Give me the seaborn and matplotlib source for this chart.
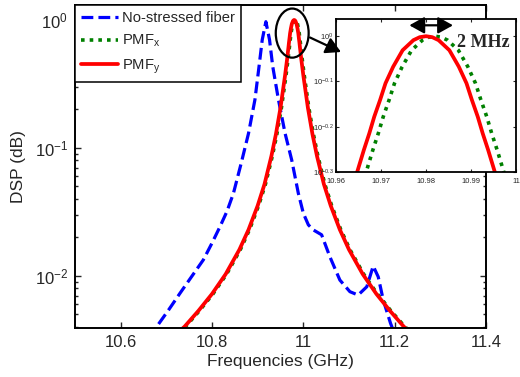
import matplotlib
matplotlib.use("Agg")
import matplotlib.pyplot as plt
import seaborn as sns
import pandas as pd
from matplotlib.patches import Ellipse
from matplotlib.ticker import FixedLocator, FixedFormatter, NullLocator, LogLocator

# ---- spectra (GHz, linear power) ----
freq_nostress = [10.660, 10.679, 10.705, 10.730, 10.755, 10.781, 10.800, 10.8175, 10.833, 10.847,
                 10.864, 10.880, 10.894, 10.903, 10.910, 10.918, 10.926, 10.933, 10.9455, 10.960,
                 10.9745, 10.989, 11.000, 11.011, 11.022, 11.040, 11.058, 11.080, 11.102, 11.120,
                 11.139, 11.153, 11.164, 11.175, 11.191, 11.200]
dsp_nostress = [0.0033, 0.0040, 0.0054, 0.0073, 0.0098, 0.0133, 0.018, 0.0242, 0.032, 0.0442,
                0.076, 0.130, 0.238, 0.433, 0.70, 0.97, 0.70, 0.433, 0.238, 0.130,
                0.0805, 0.0442, 0.0308, 0.025, 0.0228, 0.0209, 0.0141, 0.00925, 0.0075, 0.00706,
                0.0082, 0.0119, 0.0098, 0.00645, 0.00424, 0.0035]

freq_pmf_x = [10.712, 10.742, 10.772, 10.802, 10.832, 10.862, 10.882, 10.902, 10.917, 10.932,
              10.942, 10.952, 10.962, 10.9667, 10.9682, 10.9694, 10.9705, 10.9718, 10.9730, 10.9747,
              10.9768, 10.9792, 10.9806, 10.9820, 10.9834, 10.9848, 10.9872, 10.9893, 10.9910, 10.9922,
              10.9935, 10.9946, 10.9958, 10.9973, 11.002, 11.012, 11.022, 11.032, 11.047, 11.062,
              11.082, 11.102, 11.132, 11.162, 11.192, 11.222, 11.252]
dsp_pmf_x = [0.0032, 0.0040, 0.0053, 0.0072, 0.0103, 0.0160, 0.0229, 0.0353, 0.052, 0.086,
             0.128, 0.206, 0.369, 0.501, 0.561, 0.610, 0.664, 0.723, 0.787, 0.856,
             0.931, 0.980, 0.995, 1.000, 0.995, 0.980, 0.931, 0.856, 0.787, 0.723,
             0.664, 0.610, 0.561, 0.501, 0.369, 0.206, 0.128, 0.086, 0.052, 0.0353,
             0.0229, 0.0160, 0.0103, 0.0072, 0.0053, 0.0040, 0.0032]

freq_pmf_y = [10.710, 10.740, 10.770, 10.800, 10.830, 10.860, 10.880, 10.900, 10.915, 10.930,
              10.940, 10.950, 10.960, 10.9647, 10.9662, 10.9674, 10.9685, 10.9698, 10.9710, 10.9727,
              10.9748, 10.9772, 10.9786, 10.9800, 10.9814, 10.9828, 10.9852, 10.9873, 10.9890, 10.9902,
              10.9915, 10.9926, 10.9938, 10.9953, 11.000, 11.010, 11.020, 11.030, 11.045, 11.060,
              11.080, 11.100, 11.130, 11.160, 11.190, 11.220, 11.250]
dsp_pmf_y = [0.0032, 0.0040, 0.0053, 0.0072, 0.0103, 0.0160, 0.0229, 0.0353, 0.052, 0.086,
             0.128, 0.206, 0.369, 0.501, 0.561, 0.610, 0.664, 0.723, 0.787, 0.856,
             0.931, 0.980, 0.995, 1.000, 0.995, 0.980, 0.931, 0.856, 0.787, 0.723,
             0.664, 0.610, 0.561, 0.501, 0.369, 0.206, 0.128, 0.086, 0.052, 0.0353,
             0.0229, 0.0160, 0.0103, 0.0072, 0.0053, 0.0040, 0.0032]

series_labels = ["No-stressed fiber", "PMF$_x$", "PMF$_y$"]

main_xticks = [10.6, 10.8, 11.0, 11.2, 11.4]
main_xticklabels = ["10.6", "10.8", "11", "11.2", "11.4"]
inset_xticks = [10.96, 10.97, 10.98, 10.99, 11.0]
inset_xticklabels = ["10.96", "10.97", "10.98", "10.99", "11"]
inset_ytick_exps = [0, -0.1, -0.2, -0.3]
inset_yticklabels = ["$10^{0}$", "$10^{-0.1}$", "$10^{-0.2}$", "$10^{-0.3}$"]

shift_label = "2 MHz"

# ---- style ----
sns.set_style("ticks")
plt.rcParams["font.family"] = ["Liberation Sans", "DejaVu Sans"]
plt.rcParams["mathtext.default"] = "regular"

df_ns = pd.DataFrame({"f": freq_nostress, "p": dsp_nostress})
df_x = pd.DataFrame({"f": freq_pmf_x, "p": dsp_pmf_x})
df_y = pd.DataFrame({"f": freq_pmf_y, "p": dsp_pmf_y})

W, H = 520, 377
fig = plt.figure(figsize=(W / 100, H / 100), dpi=100)
ax = fig.add_axes([75 / W, 1 - 328 / H, 411 / W, 323 / H])

blue_kw = dict(color="blue", linewidth=2.3, linestyle="--")
green_kw = dict(color="green", linewidth=2.6, linestyle=(0, (1.0, 1.4)))
red_kw = dict(color="red", linewidth=2.7, linestyle="-")

sns.lineplot(data=df_ns, x="f", y="p", ax=ax, label=series_labels[0], **blue_kw)
sns.lineplot(data=df_x, x="f", y="p", ax=ax, label=series_labels[1], **green_kw)
sns.lineplot(data=df_y, x="f", y="p", ax=ax, label=series_labels[2], **red_kw)

ax.set_yscale("log")
ax.set_xlim(10.5, 11.4)
ax.set_ylim(0.0039, 1.31)
ax.set_xticks(main_xticks)
ax.set_xticklabels(main_xticklabels)
ax.yaxis.set_minor_locator(LogLocator(base=10, subs=range(2, 10)))
ax.set_xlabel("Frequencies (GHz)", fontsize=12.5, labelpad=3)
ax.set_ylabel("DSP (dB)", fontsize=12.5, labelpad=6)
ax.tick_params(which="both", direction="in", top=True, right=True, labelsize=12, width=1.0)
ax.tick_params(which="major", length=4, pad=5)
ax.tick_params(which="minor", length=2)
for s in ax.spines.values():
    s.set_linewidth(1.4)
    s.set_color("black")

leg = ax.legend(loc="upper left", bbox_to_anchor=(0, 1), borderaxespad=0, fancybox=False,
                edgecolor="black", framealpha=1, fontsize=10.6, handlelength=2.5,
                handletextpad=0.3, labelspacing=0.55, borderpad=0.4)
leg.get_frame().set_linewidth(1.1)

# circle round the peaks
ax.add_patch(Ellipse((0.5285, 0.913), 0.080, 0.152, transform=ax.transAxes, fill=False,
                     ec="black", lw=1.6, clip_on=False, zorder=6))

# ---- zoomed inset ----
ax_in = fig.add_axes([336 / W, 1 - 172 / H, 180 / W, 153 / H])
ax_in.set_facecolor("white")
sns.lineplot(data=df_x, x="f", y="p", ax=ax_in, legend=False, **green_kw)
sns.lineplot(data=df_y, x="f", y="p", ax=ax_in, legend=False, **red_kw)
ax_in.set_yscale("log")
ax_in.set_xlim(10.96, 11.0)
ax_in.set_ylim(10 ** -0.3, 10 ** 0.038)
ax_in.set_xticks(inset_xticks)
ax_in.set_xticklabels(inset_xticklabels)
ax_in.yaxis.set_major_locator(FixedLocator([10 ** e for e in inset_ytick_exps]))
ax_in.yaxis.set_major_formatter(FixedFormatter(inset_yticklabels))
ax_in.yaxis.set_minor_locator(NullLocator())
ax_in.set_xlabel("")
ax_in.set_ylabel("")
ax_in.tick_params(which="both", direction="in", top=True, right=True, labelsize=5.5,
                  length=2.5, width=0.8, pad=1.5)
ax_in.tick_params(axis="x", pad=4)
for s in ax_in.spines.values():
    s.set_linewidth(1.3)
    s.set_color("black")

# double arrow marking the shift between the two peaks
ax_in.annotate("", xy=(10.9763, 1.057), xytext=(10.9860, 1.057),
               arrowprops=dict(arrowstyle="<|-|>,head_length=0.9,head_width=0.5",
                               color="black", lw=1.6, shrinkA=0, shrinkB=0))
ax_in.text(0.672, 0.846, shift_label, transform=ax_in.transAxes, ha="left", va="center",
           fontsize=13, fontweight="bold", family=["Liberation Serif", "DejaVu Serif"])

# pointer from the circled peak to the inset
ax_in.annotate("", xy=(341, H - 52), xycoords="figure pixels",
               xytext=(310, H - 37.5), textcoords="figure pixels",
               arrowprops=dict(arrowstyle="-|>,head_length=0.9,head_width=0.5",
                               color="black", lw=1.6, shrinkA=0, shrinkB=0),
               annotation_clip=False)

fig.savefig("out.png", dpi=100)
